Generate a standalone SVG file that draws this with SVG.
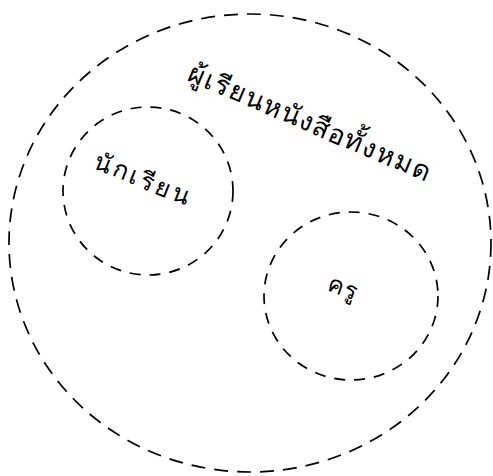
<svg xmlns="http://www.w3.org/2000/svg" width="493" height="476" viewBox="0 0 493 476">
<style>
.set{fill:none;stroke:#000;stroke-width:1.7}
.outer{stroke-dasharray:14 9}
.inner{stroke-dasharray:11 9}
.lbl{font-family:"Noto Sans","DejaVu Sans","Liberation Sans",sans-serif;fill:#000;font-weight:300}
</style>
<rect width="493" height="476" fill="#fff"/>
<g id="all-learners">
<ellipse class="set outer" cx="250" cy="243" rx="241" ry="229"/>
<text class="lbl" font-size="27" letter-spacing="1.5" transform="translate(186,80) rotate(23)">ผู้เรียนหนังสือทั้งหมด</text>
</g>
<g id="students">
<ellipse class="set inner" cx="148" cy="191" rx="85" ry="84"/>
<text class="lbl" font-size="25" letter-spacing="3" transform="translate(92,168) rotate(22)">นักเรียน</text>
</g>
<g id="teachers">
<ellipse class="set inner" cx="351" cy="296" rx="87" ry="84"/>
<text class="lbl" font-size="24" letter-spacing="1" transform="translate(326,290) rotate(20)">ครู</text>
</g>
<g id="connectors"/>
</svg>
